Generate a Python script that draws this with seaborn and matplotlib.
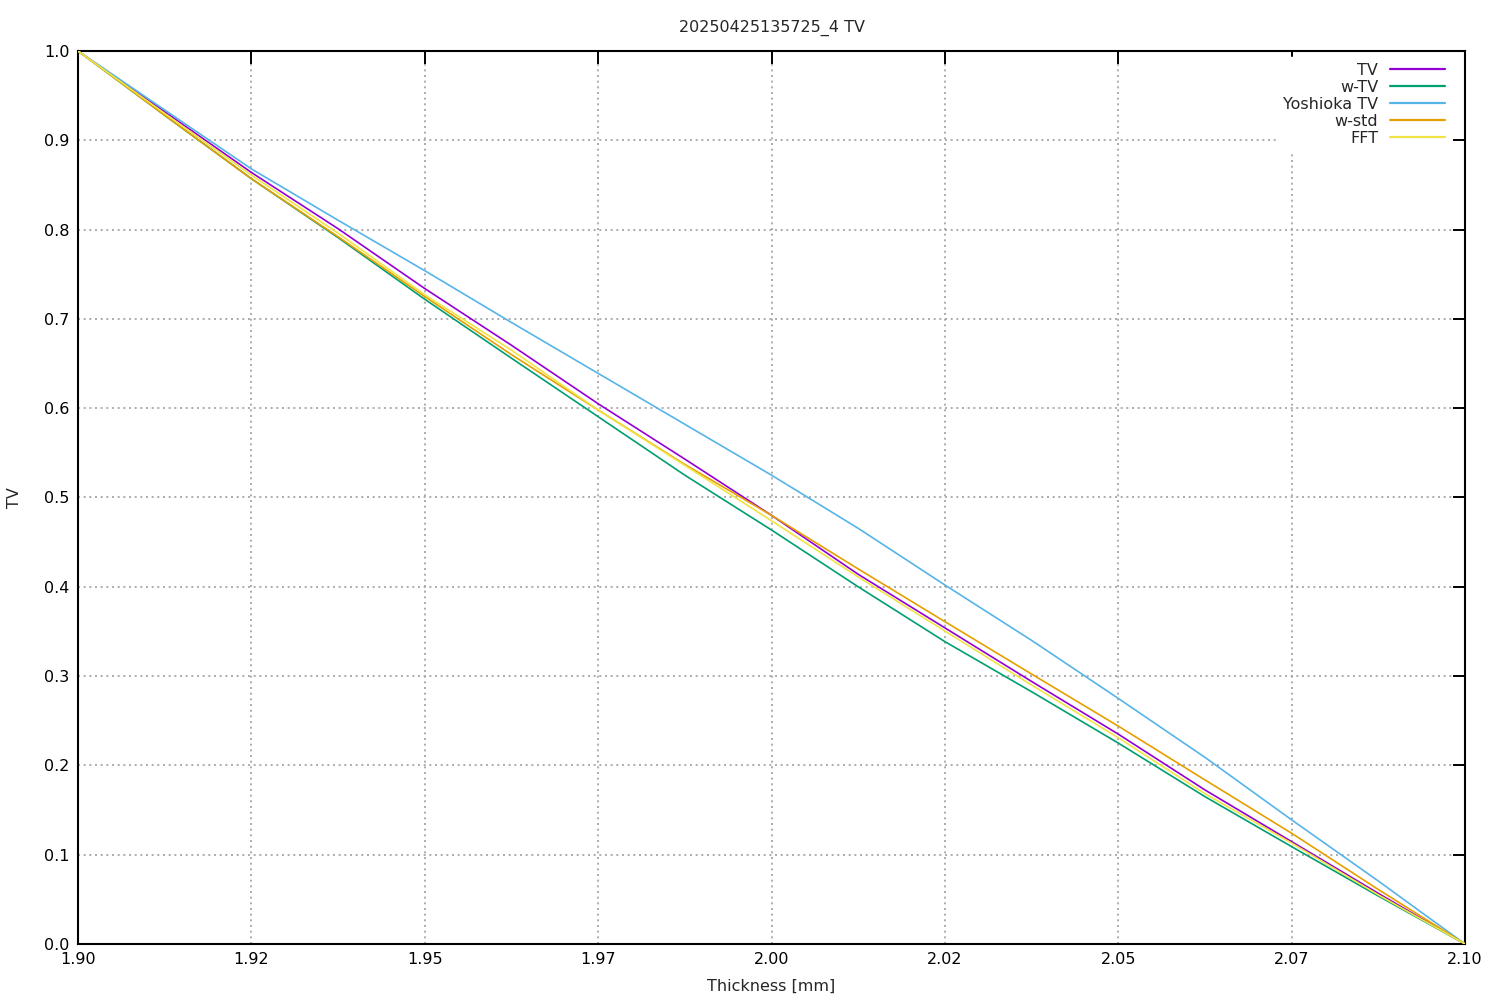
import pandas as pd
import numpy as np
import matplotlib
matplotlib.use("Agg")
import matplotlib.pyplot as plt
import seaborn as sns

# thickness grid (mm)
thickness = [1.9000, 1.9125, 1.9250, 1.9375, 1.9500, 1.9625, 1.9750, 1.9875, 2.0000,
             2.0125, 2.0250, 2.0375, 2.0500, 2.0625, 2.0750, 2.0875, 2.1000]

tv = [1.000, 0.932, 0.864, 0.801, 0.734, 0.6705, 0.605, 0.543, 0.480,
      0.414, 0.354, 0.294, 0.235, 0.1725, 0.1146, 0.0567, 0.000]
w_tv = [1.000, 0.928, 0.857, 0.791, 0.722, 0.656, 0.5905, 0.525, 0.4636,
        0.400, 0.3386, 0.2825, 0.225, 0.165, 0.109, 0.0537, 0.000]
yoshioka_tv = [1.000, 0.934, 0.868, 0.8105, 0.754, 0.696, 0.639, 0.582, 0.525,
               0.4655, 0.402, 0.340, 0.275, 0.209, 0.139, 0.0705, 0.000]
w_std = [1.000, 0.928, 0.857, 0.792, 0.725, 0.660, 0.598, 0.537, 0.480,
         0.420, 0.361, 0.3023, 0.244, 0.1837, 0.124, 0.061, 0.000]
fft = [1.000, 0.930, 0.861, 0.796, 0.727, 0.665, 0.598, 0.536, 0.474,
       0.411, 0.3505, 0.290, 0.231, 0.1683, 0.113, 0.055, 0.000]

series_names = ["TV", "w-TV", "Yoshioka TV", "w-std", "FFT"]
colors = ["#9400d3", "#009e73", "#56b4e9", "#e69f00", "#f0e442"]

x_ticks = [1.900, 1.925, 1.950, 1.975, 2.000, 2.025, 2.050, 2.075, 2.100]
x_tick_labels = ["1.90", "1.92", "1.95", "1.97", "2.00", "2.02", "2.05", "2.07", "2.10"]
y_ticks = [0.0, 0.1, 0.2, 0.3, 0.4, 0.5, 0.6, 0.7, 0.8, 0.9, 1.0]

frames = []
for name, vals in zip(series_names, [tv, w_tv, yoshioka_tv, w_std, fft]):
    frames.append(pd.DataFrame({"thickness": thickness, "value": vals, "method": name}))
df = pd.concat(frames, ignore_index=True)

sns.set_style("white")
plt.rcParams["font.family"] = ["DejaVu Sans"]
fs = 11.5

fig = plt.figure(figsize=(15, 10), dpi=100)
ax = fig.add_axes([0.052, 0.056, 0.9247, 0.893])

sns.lineplot(data=df, x="thickness", y="value", hue="method", hue_order=series_names,
             palette=dict(zip(series_names, colors)), linewidth=1.2, ax=ax, zorder=3)

ax.set_xlim(1.9, 2.1)
ax.set_ylim(0.0, 1.0)
ax.set_xticks(x_ticks)
ax.set_xticklabels(x_tick_labels)
ax.set_yticks(y_ticks)
ax.set_yticklabels([f"{v:.1f}" for v in y_ticks])

ax.grid(True, color="#a0a0a0", linestyle=(0, (1.2, 2.2)), linewidth=1.2, zorder=0)
ax.tick_params(direction="in", length=9, width=1.4, top=True, right=True,
               labelsize=fs, pad=6, colors="black")
for sp in ax.spines.values():
    sp.set_linewidth(1.5)
    sp.set_color("black")

ax.set_title("20250425135725_4 TV", fontsize=fs, pad=14)
ax.set_xlabel("Thickness [mm]", fontsize=fs, labelpad=8)
ax.set_ylabel("TV", fontsize=fs, labelpad=16)

handles, labels = ax.get_legend_handles_labels()
leg = ax.legend(handles, labels, loc="upper right", bbox_to_anchor=(0.9902, 0.9937),
                markerfirst=False, frameon=True,
                fancybox=False, facecolor="white", edgecolor="white", framealpha=1,
                handlelength=3.44, handletextpad=0.75, labelspacing=0.12,
                borderpad=0.4, borderaxespad=0.0, fontsize=fs)
leg.set_zorder(5)
for line in leg.get_lines():
    line.set_linewidth(1.6)

fig.savefig("out.png", dpi=100)
